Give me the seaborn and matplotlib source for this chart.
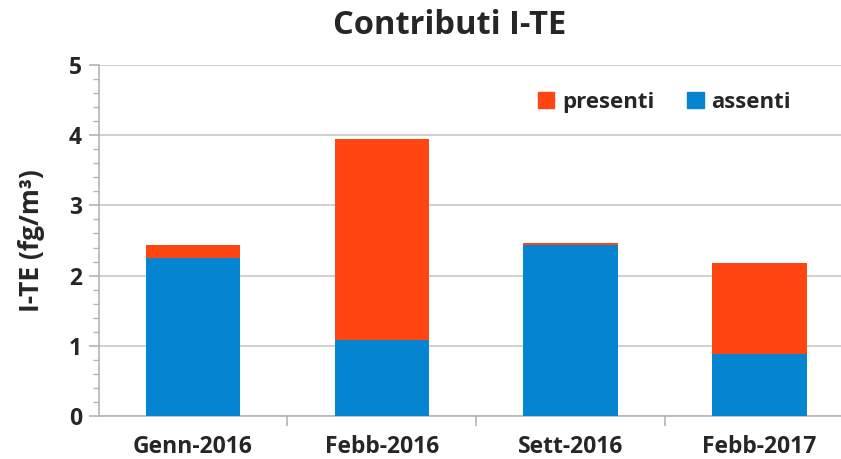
import matplotlib
matplotlib.use("Agg")
import matplotlib.pyplot as plt
import seaborn as sns
import pandas as pd
from matplotlib.ticker import MultipleLocator, FixedLocator
from matplotlib.patches import Patch

# dati
periodi = ["Genn-2016", "Febb-2016", "Sett-2016", "Febb-2017"]
assenti = [2.25, 1.08, 2.435, 0.885]
presenti = [0.185, 2.87, 0.025, 1.295]

col_assenti = "#0584D2"
col_presenti = "#FF4511"

df = pd.DataFrame({"periodo": periodi, "assenti": assenti, "presenti": presenti})
df["totale"] = df["assenti"] + df["presenti"]

sns.set_style("white")
plt.rcParams["font.family"] = ["Open Sans", "DejaVu Sans"]
plt.rcParams["font.weight"] = "bold"

fig = plt.figure(figsize=(8.41, 4.59), dpi=100)
ax = fig.add_axes([98.5 / 841, 1 - 416 / 459, (854 - 98.5) / 841, (416 - 65) / 459])

# barre impilate: totale (presenti) sotto, assenti sopra
sns.barplot(data=df, x="periodo", y="totale", color=col_presenti, width=0.5,
            saturation=1, linewidth=0, ax=ax, zorder=2)
sns.barplot(data=df, x="periodo", y="assenti", color=col_assenti, width=0.5,
            saturation=1, linewidth=0, ax=ax, zorder=3)

ax.set_ylim(0, 5)
ax.set_xlim(-0.5, 3.5)
ax.yaxis.set_major_locator(MultipleLocator(1))
ax.yaxis.set_minor_locator(MultipleLocator(0.2))
ax.xaxis.set_minor_locator(FixedLocator([0.5, 1.5, 2.5, 3.5]))
ax.grid(axis="y", which="major", color="#c8c8c8", linewidth=1.2, zorder=0)
ax.set_axisbelow(True)

for s in ["top", "right"]:
    ax.spines[s].set_visible(False)
for s in ["left", "bottom"]:
    ax.spines[s].set_color("#b4b4b4")
    ax.spines[s].set_linewidth(1.2)

ax.tick_params(axis="y", which="major", left=True, length=7, width=1.2,
               color="#b4b4b4", labelsize=16.5, pad=5)
ax.tick_params(axis="y", which="minor", left=True, length=4, width=1.0,
               color="#b4b4b4")
ax.tick_params(axis="x", which="major", bottom=False, labelsize=16.5, pad=10)
ax.tick_params(axis="x", which="minor", bottom=True, length=7, width=1.2,
               color="#b4b4b4")
for lab in ax.get_xticklabels() + ax.get_yticklabels():
    lab.set_fontweight("bold")

ax.set_xlabel("")
ax.set_ylabel("I-TE (fg/m³)", fontsize=19, fontweight="bold", labelpad=17)

fig.text(450 / 841, 1 - 25 / 459, "Contributi I-TE", ha="center", va="center",
         fontsize=23.5, fontweight="bold")

handles = [Patch(color=col_presenti, label="presenti"),
           Patch(color=col_assenti, label="assenti")]
ax.legend(handles=handles, loc="upper left", bbox_to_anchor=(0.555, 0.98),
          ncol=2, frameon=False, handlelength=0.75,
          handleheight=0.75, handletextpad=0.35, columnspacing=1.45,
          prop={"weight": "bold", "size": 16})

fig.savefig("out.png", dpi=100)
